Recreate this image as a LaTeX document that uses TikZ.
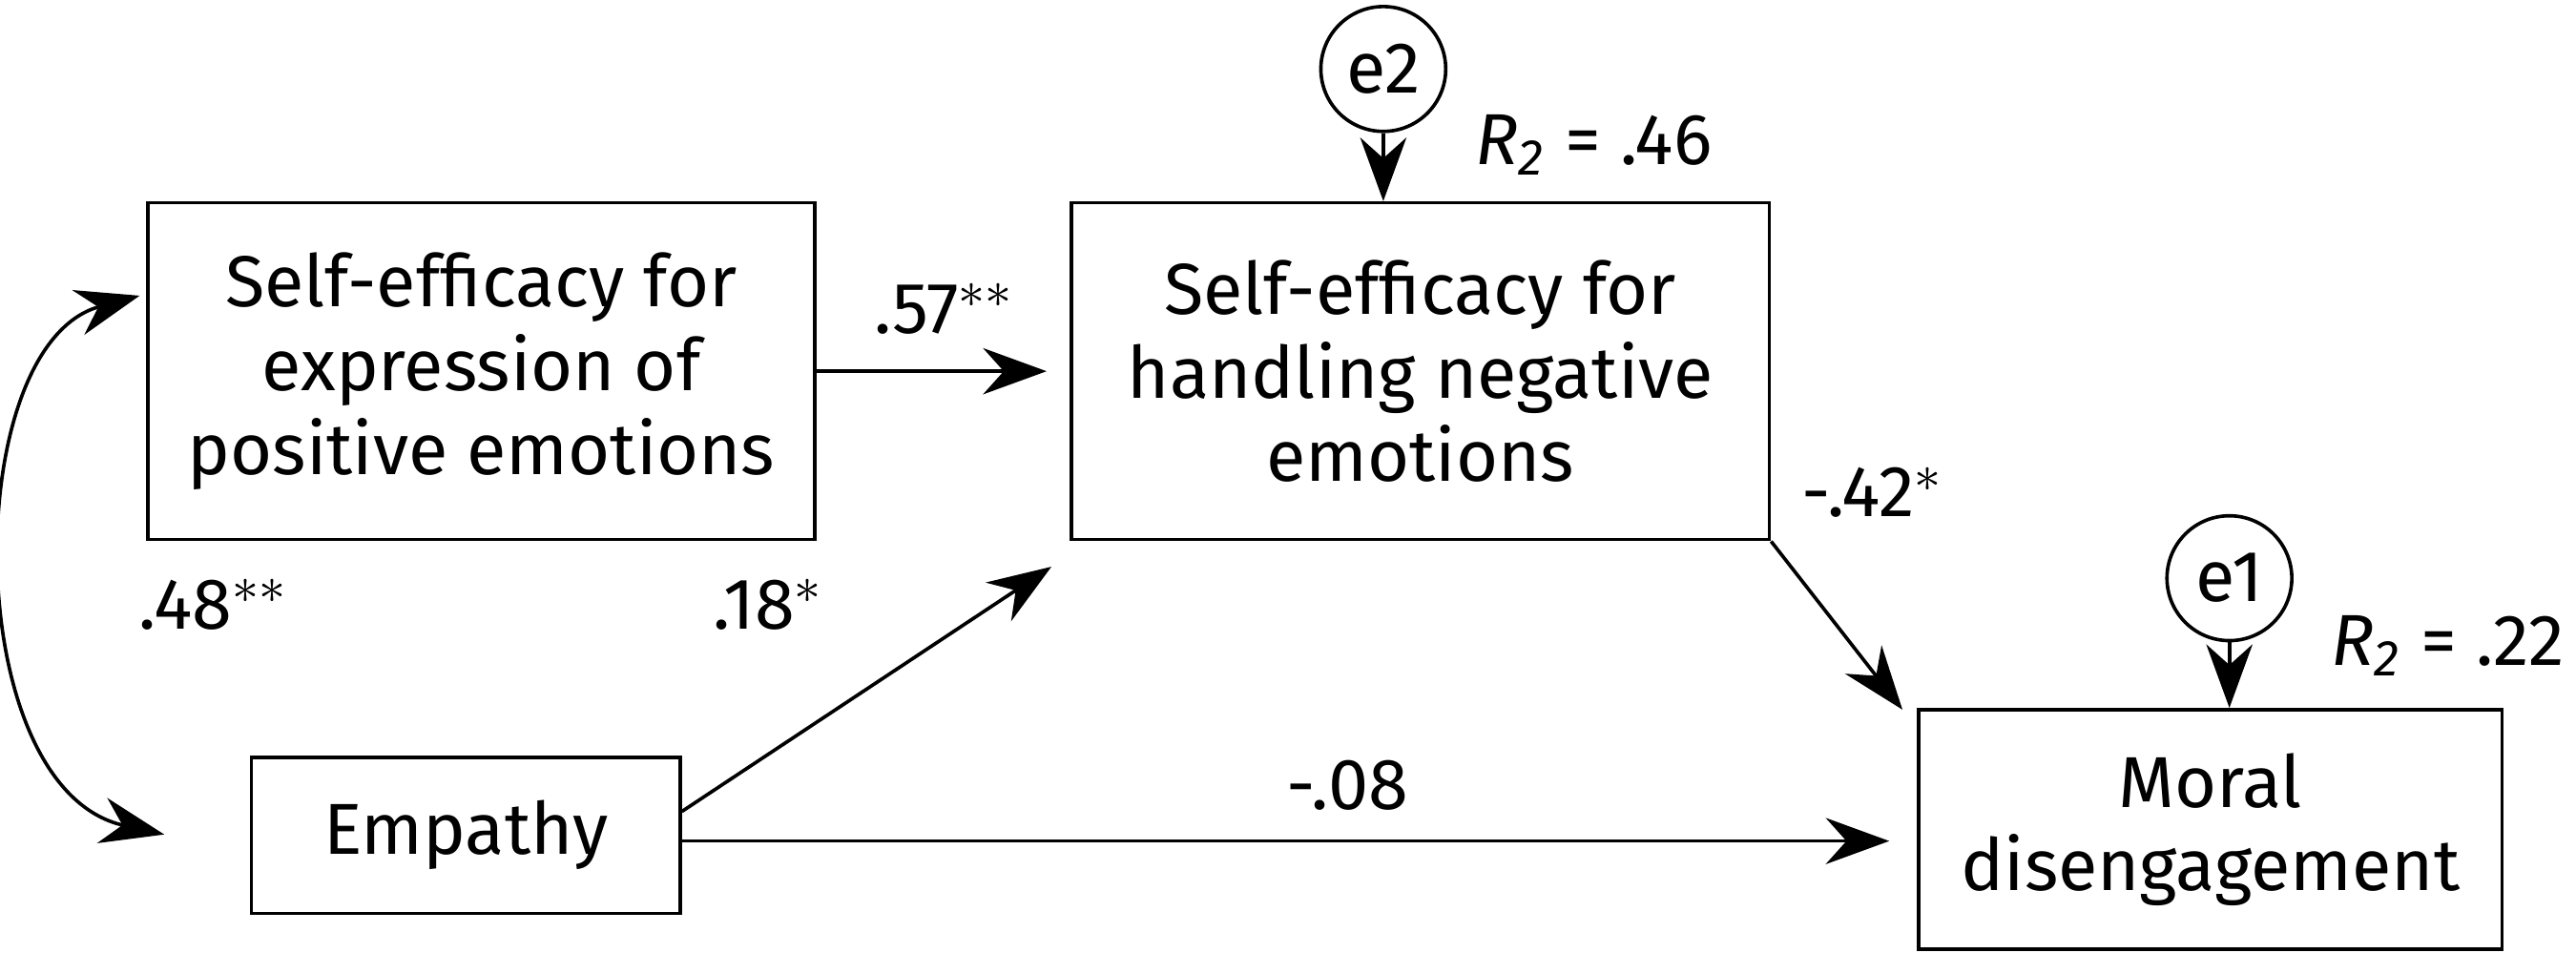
\documentclass[tikz,border=0pt]{standalone}
\usepackage{fontspec}
\setmainfont{Fira Sans}
\usetikzlibrary{arrows.meta, positioning}
\tikzset{>={Stealth[length=11pt,width=8pt]}}

\begin{document}
\begin{tikzpicture}[font=\fontsize{12.5}{14.5}\selectfont, semithick,
    box/.style={draw, rectangle, align=center, inner sep=0pt},
    err/.style={draw, circle, minimum size=0.76cm, inner sep=0pt},
    coef/.style={inner sep=1pt}]
      \useasboundingbox (0,0) rectangle (15.68,5.80);

      \node[box, minimum width=4.06cm, minimum height=2.05cm] (SEP) at (2.93,3.54)
            {Self-efficacy for\\expression of\\positive emotions};
      \node[box, minimum width=4.25cm, minimum height=2.05cm] (SEN) at (8.645,3.54)
            {Self-efficacy for\\handling negative\\emotions};
      \node[box, minimum width=2.61cm, minimum height=0.95cm] (EMP) at (2.835,0.715) {Empathy};
      \node[box, minimum width=3.55cm, minimum height=1.46cm] (MD) at (13.455,0.75)
            {Moral\\disengagement};
      \node[err] (E2) at (8.42,5.38) {e2};
      \node[err] (E1) at (13.57,2.28) {e1};

      \coordinate (C1) at (6.40,2.35);
      \coordinate (C2) at (11.58,1.48);
      \coordinate (C3) at (11.50,0.68);
      \coordinate (C4) at (0.85,4.00);
      \coordinate (C5) at (1.00,0.72);

      \draw[->](SEP.east) -- ++(1.40,0);
      \draw[->](EMP.east |- 0,0.86) -- (C1);
      \draw[->](EMP.east |- 0,0.68) -- (C3);
      \draw[->](SEN.south east) -- (C2);
      \draw[->](E2) -- (SEN.north -| E2);
      \draw[->](E1) -- (MD.north -| E1);
      \draw[<->](C4) .. controls (-0.25,3.70) and (-0.25,1.00) .. (C5);

      \node[coef] (L1) at (5.75,3.92) {.57$^{**}$};
      \node[coef] (L2) at (4.68,2.12) {.18$^{*}$};
      \node[coef] (L3) at (1.30,2.12) {.48$^{**}$};
      \node[coef] (L4) at (11.40,2.80) {-.42$^{*}$};
      \node[coef] (L5) at (8.20,1.02) {-.08};
      \node[coef] (L6) at (9.70,4.92) {\textit{R\textsubscript{2}} = .46};
      \node[coef] (L7) at (14.90,1.87) {\textit{R\textsubscript{2}} = .22};
\end{tikzpicture}
\end{document}
